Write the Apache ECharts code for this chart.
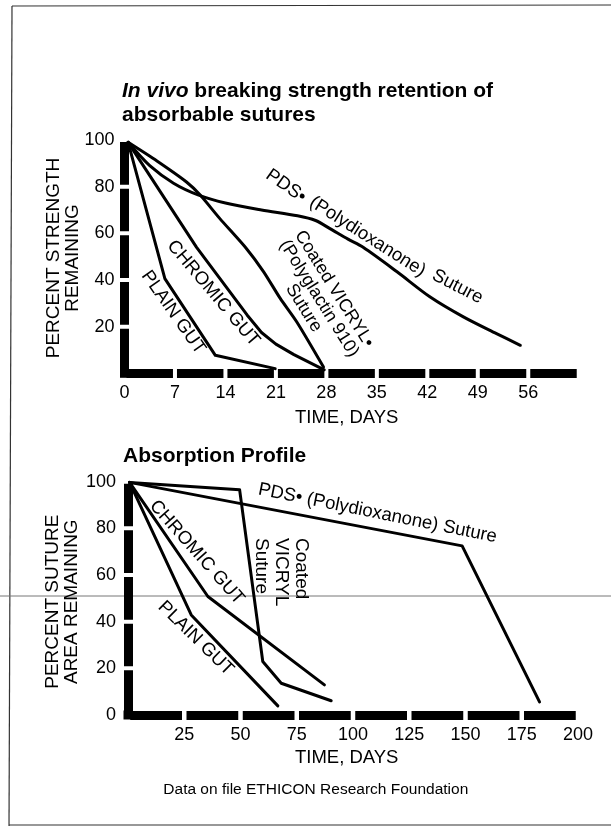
<!DOCTYPE html>
<html><head><meta charset="utf-8">
<script src="https://cdn.jsdelivr.net/npm/echarts@6/dist/echarts.min.js"></script>
<style>html,body{margin:0;padding:0;background:#fff}#c{width:611px;height:827px}</style>
</head><body><div id="c"></div>
<script>
// ---------- Top chart: In vivo breaking strength retention ----------
const strengthDayTicks = [0, 7, 14, 21, 28, 35, 42, 49, 56];
const strengthPctTicks = [20, 40, 60, 80, 100];
const strengthPlainGut = [[0.5, 99], [5.6, 40.6], [12.6, 7.7], [20.9, 2]];
const strengthChromicGut = [[0.5, 99], [10, 54], [17, 25], [19, 17.5], [21, 12.5], [23.5, 8], [27.7, 1.5]];
const strengthVicryl = [[0.5, 99], [4.5, 91], [8.6, 82], [10.5, 76.4], [13.2, 66.4], [16.9, 53.5], [19.3, 43.5], [21.6, 32.1], [23.9, 22], [27.6, 2.7]];
const strengthPDS = [[0.5, 99], [3.5, 89], [6.8, 81.5], [10.2, 76.5], [14, 73], [19, 70], [24, 67.5], [26.5, 65.5], [28.5, 62], [31, 57.5], [33.1, 54], [37.8, 43.5], [42.4, 32.7], [47, 24.2], [51.6, 17], [54.9, 12]];

// ---------- Bottom chart: Absorption profile ----------
const absorbDayTicks = [25, 50, 75, 100, 125, 150, 175, 200];
const absorbPctTicks = [0, 20, 40, 60, 80, 100];
const absorbPlainGut = [[0.7, 99.7], [28.1, 42.9], [66.6, 3.9]];
const absorbChromicGut = [[0.7, 99.7], [35.5, 50.8], [87.3, 12.9]];
const absorbVicryl = [[0.7, 99.7], [49.6, 96.6], [59.9, 22.9], [68.1, 13.6], [90.3, 6.1]];
const absorbPDS = [[0.7, 99.7], [148.5, 72.5], [182.9, 5.6]];

const FONT = '"Liberation Sans", Arial, Helvetica, sans-serif';
const chart = echarts.init(document.getElementById('c'), null, {renderer: 'canvas'});

function bar(period, gap) {
  return {color: '#000', width: 9, type: [period - gap, gap], dashOffset: period - gap / 2, cap: 'butt'};
}
function lbl(ticks, margin) {
  return {
    color: '#000', fontSize: 18, fontFamily: FONT, margin: margin,
    formatter: v => ticks.indexOf(v) >= 0 ? String(v) : ''
  };
}
function lineSeries(data, xi, smooth) {
  return {
    type: 'line', xAxisIndex: xi, yAxisIndex: xi, data: data, symbol: 'none', smooth: smooth || false,
    lineStyle: {color: '#000', width: 3, cap: 'round', join: 'round'}, silent: true, z: 3
  };
}
function txt(x, y, text, deg, size, extra) {
  return {
    type: 'text', x: x, y: y, rotation: deg * Math.PI / 180, silent: true, z: 10,
    style: Object.assign({text: text, fill: '#000', fontSize: size, fontFamily: FONT, align: 'center', verticalAlign: 'middle'}, extra || {})
  };
}

const grid0 = {left: 124.5, top: 140, width: 63 * 7.21, height: 233.3};
const grid1 = {left: 128, top: 481.7, width: 450, height: 233.3};

chart.setOption({
  animation: false,
  backgroundColor: '#fff',
  grid: [grid0, grid1],
  xAxis: [
    {type: 'value', gridIndex: 0, min: 0, max: 63, interval: 7,
     axisLine: {lineStyle: bar(7 * 7.21, 4)}, axisTick: {show: false}, splitLine: {show: false},
     axisLabel: lbl(strengthDayTicks, 11)},
    {type: 'value', gridIndex: 1, min: 0, max: 200, interval: 25,
     axisLine: {lineStyle: bar(56.25, 4.5)}, axisTick: {show: false}, splitLine: {show: false},
     axisLabel: lbl(absorbDayTicks, 11)}
  ],
  yAxis: [
    {type: 'value', gridIndex: 0, min: 0, max: 100, interval: 20,
     axisLine: {lineStyle: bar(233.3 / 5, 4)}, axisTick: {show: false}, splitLine: {show: false},
     axisLabel: lbl(strengthPctTicks, 10)},
    {type: 'value', gridIndex: 1, min: 0, max: 100, interval: 20,
     axisLine: {lineStyle: bar(233.3 / 5, 4)}, axisTick: {show: false}, splitLine: {show: false},
     axisLabel: lbl(absorbPctTicks, 12)}
  ],
  series: [
    lineSeries(strengthPlainGut, 0),
    lineSeries(strengthChromicGut, 0),
    lineSeries(strengthVicryl, 0, 0.25),
    lineSeries(strengthPDS, 0, 0.3),
    lineSeries(absorbPlainGut, 1),
    lineSeries(absorbChromicGut, 1),
    lineSeries(absorbVicryl, 1),
    lineSeries(absorbPDS, 1)
  ]
});

const c0 = chart.convertToPixel({gridIndex: 0}, [0, 0]);
const c1 = chart.convertToPixel({gridIndex: 1}, [0, 0]);

chart.setOption({
  graphic: [
    // page frame and scan line
    {type: 'line', silent: true, shape: {x1: 12, y1: 6, x2: 611, y2: 5}, style: {stroke: '#333', lineWidth: 1.2}},
    {type: 'line', silent: true, shape: {x1: 12, y1: 6, x2: 9, y2: 826}, style: {stroke: '#333', lineWidth: 1.2}},
    {type: 'line', silent: true, shape: {x1: 9, y1: 825, x2: 611, y2: 825}, style: {stroke: '#333', lineWidth: 1.2}},
    {type: 'line', silent: true, shape: {x1: 0, y1: 596, x2: 611, y2: 596}, style: {stroke: '#777', lineWidth: 1}},
    // axis corners
    {type: 'rect', silent: true, z: 1, shape: {x: c0[0] - 4.5, y: c0[1] - 4.5, width: 9, height: 9}, style: {fill: '#000'}},
    {type: 'rect', silent: true, z: 1, shape: {x: c1[0] - 4.5, y: c1[1] - 4.5, width: 9, height: 9}, style: {fill: '#000'}},
    // titles
    txt(122, 80, '{i|In vivo} breaking strength retention of\nabsorbable sutures', 0, 21,
        {fontWeight: 'bold', align: 'left', verticalAlign: 'top', lineHeight: 23.3,
         rich: {i: {fontStyle: 'italic', fontWeight: 'bold', fontSize: 21, fontFamily: FONT, lineHeight: 23.3}}}),
    txt(123, 456.7, 'Absorption Profile', 0, 21, {fontWeight: 'bold', align: 'left'}),
    // axis names
    txt(63, 258, 'PERCENT STRENGTH\nREMAINING', 90, 19, {lineHeight: 19}),
    txt(62.5, 601.7, 'PERCENT SUTURE\nAREA REMAINING', 90, 19, {lineHeight: 19}),
    txt(346.7, 418, 'TIME, DAYS', 0, 18.5),
    txt(346.7, 758.3, 'TIME, DAYS', 0, 18.5),
    txt(315.8, 790, 'Data on file ETHICON Research Foundation', 0, 15.5),
    // top series labels
    txt(173.3, 312.5, 'PLAIN GUT', -54.8, 18.5),
    txt(213.3, 293.3, 'CHROMIC GUT', -49.8, 18.5),
    txt(319, 298.5, 'Coated VICRYL\u2022\n(Polyglactin 910)\nSuture', -58, 18, {lineHeight: 18}),
    txt(286, 186, 'PDS\u2022', -35, 18.5),
    txt(367.5, 236.7, '(Polydioxanone)', -32.5, 18.5),
    txt(457.5, 286.7, 'Suture', -27, 18.5),
    // bottom series labels
    txt(377.5, 513.3, 'PDS\u2022 (Polydioxanone) Suture', -11.4, 18.5),
    txt(281.7, 538, 'Coated\nVICRYL\nSuture', -90, 19, {align: 'left', lineHeight: 20}),
    txt(196.7, 552.5, 'CHROMIC GUT', -48.4, 18.5),
    txt(195.8, 638.3, 'PLAIN GUT', -44.4, 18.5)
  ]
});
</script>
</body></html>
